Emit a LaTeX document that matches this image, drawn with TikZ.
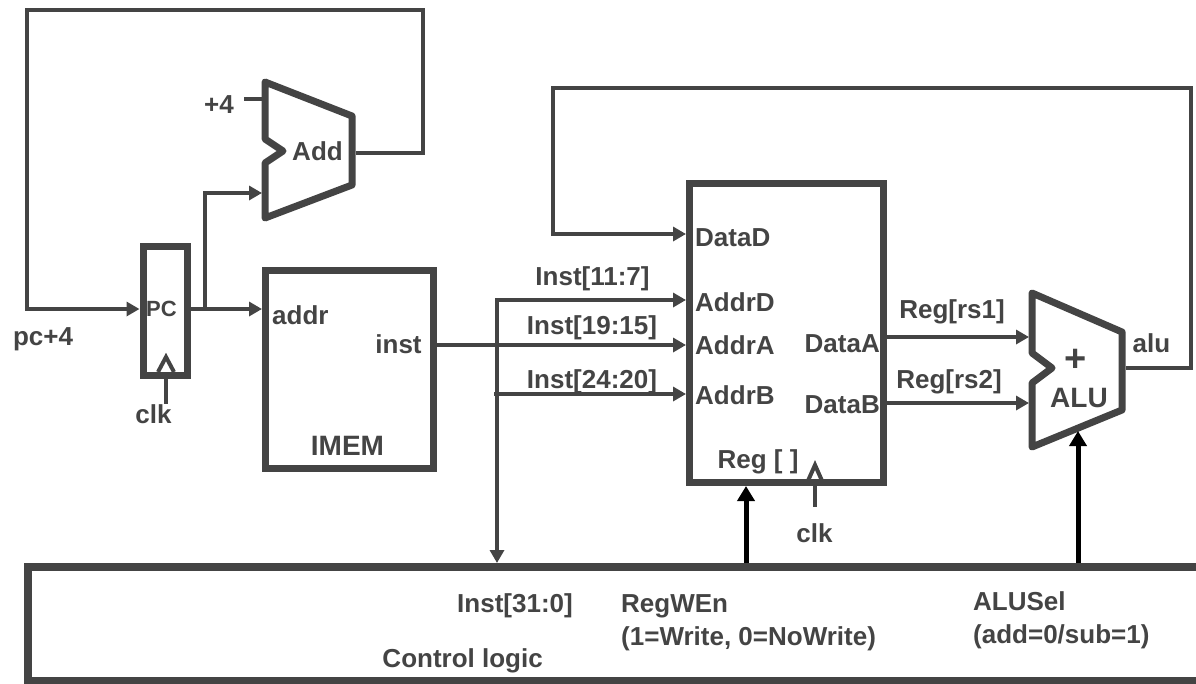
\documentclass[tikz,border=0pt]{standalone}
\usepackage{fontspec}
\setmainfont{Liberation Sans}
\usetikzlibrary{arrows.meta}
\definecolor{fg}{RGB}{68,68,68}
\newcommand\lbf{\fontsize{26}{30}\selectfont\bfseries}
\newcommand\lbfbig{\fontsize{28}{32}\selectfont\bfseries}
\newcommand\lbfplus{\fontsize{38}{40}\selectfont\bfseries}
\newcommand\lbfsmall{\fontsize{22}{26}\selectfont\bfseries}
\tikzset{
  wire/.style={draw=fg, line width=4.5pt},
  arr/.style={wire, -{Triangle[length=13pt,width=14pt]}},
  blackarr/.style={draw=black, line width=5pt, -{Triangle[length=15pt,width=17pt]}},
  blk/.style={draw=fg, line width=7pt, rectangle, inner sep=0pt},
  unitshape/.style={draw=fg, line width=7pt, line join=round},
  clktri/.style={draw=fg, line width=4pt, line join=miter},
  lbl/.style={text=fg, font=\lbf, inner sep=0pt, anchor=base},
}
\begin{document}
\begin{tikzpicture}[x=1pt,y=-1pt]
\useasboundingbox (0,0) rectangle (1196,683);
\clip (0,0) rectangle (1196,683);
\fill[white] (0,0) rectangle (1196,683);

% ---------- blocks ----------
\node[blk, minimum width=44pt, minimum height=129pt] (pc) at (165,310.5) {};
\node[blk, minimum width=168pt, minimum height=198pt] (imem) at (349.5,369.5) {};
\node[blk, minimum width=194pt, minimum height=299pt] (reg) at (786.5,333) {};
\node[blk, line width=8pt, minimum width=1240pt, minimum height=114pt] (ctrl) at (647.5,624) {};

% Add unit
\draw[unitshape] (265,82) -- (352,116) -- (352,185) -- (265,218) -- (265,163)
      -- (283,151) -- (265,139) -- cycle;
% ALU unit
\draw[unitshape] (1032,293) -- (1122,332) -- (1122,410) -- (1032,447) -- (1032,383)
      -- (1052,368) -- (1032,353) -- cycle;

% ---------- port coordinates ----------
\coordinate (addout) at (355.5,153);
\coordinate (plusfour) at (244,99);
\coordinate (addinA) at (262,99);
\coordinate (addinB) at (262,193);
\coordinate (pcsplit) at (205,309);
\coordinate (aluout) at (1125.5,368);
\coordinate (aluA) at (1029,337);
\coordinate (aluB) at (1029,403);
\coordinate (busTop) at (497,300);
\coordinate (busB) at (494,394);
\coordinate (instrow) at (0,345);
\coordinate (datadrow) at (0,234);
\coordinate (drowA) at (0,337);
\coordinate (drowB) at (0,403);
\coordinate (weX) at (746,0);
\coordinate (selX) at (1078,0);
\coordinate (aluSelIn) at (1078,431);

% ---------- labels ----------
\node[lbl] (lplus4) at (219,113) {+4};
\node[lbl] (ladd) at (317.5,160) {Add};
\node[lbl, font=\lbfsmall] (lpc) at (161.5,316) {PC};
\node[lbl] (lpcplus) at (43,345) {pc+4};
\node[lbl] (lclkpc) at (153.5,423) {clk};
\node[lbl, anchor=base west] (laddr) at (272,324) {addr};
\node[lbl] (linst) at (398.5,353) {inst};
\node[lbl, font=\lbfbig] (limem) at (347.5,455) {IMEM};
\node[lbl] (li1) at (592.5,285) {Inst[11:7]};
\node[lbl] (li2) at (592,334) {Inst[19:15]};
\node[lbl] (li3) at (592,388) {Inst[24:20]};
\node[lbl, anchor=base west] (ldatad) at (695,246) {DataD};
\node[lbl, anchor=base west] (laddrd) at (695,311) {AddrD};
\node[lbl, anchor=base west] (laddra) at (695,354) {AddrA};
\node[lbl, anchor=base west] (laddrb) at (695,404) {AddrB};
\node[lbl, anchor=base east] (ldataa) at (880,352) {DataA};
\node[lbl, anchor=base east] (ldatab) at (880,413) {DataB};
\node[lbl] (lreg) at (758,468) {Reg [ ]};
\node[lbl] (lclkreg) at (814.5,542) {clk};
\node[lbl] (lrs1) at (952,318) {Reg[rs1]};
\node[lbl] (lrs2) at (949,388) {Reg[rs2]};
\node[lbl, font=\lbfplus] (lplus) at (1076,371) {+};
\node[lbl, font=\lbfbig] (lalu) at (1079,407) {ALU};
\node[lbl] (laluout) at (1151.5,352) {alu};
\node[lbl, anchor=base east] (linstall) at (573,612) {Inst[31:0]};
\node[lbl, anchor=base west] (lwe) at (621,612) {RegWEn};
\node[lbl, anchor=base west] (lwe2) at (621,645) {(1=Write, 0=NoWrite)};
\node[lbl, anchor=base west] (lsel) at (973,610) {ALUSel};
\node[lbl, anchor=base west] (lsel2) at (973,643) {(add=0/sub=1)};
\node[lbl, anchor=base east] (lctrl) at (543,667) {Control logic};

% ---------- wires ----------
% PC+4 feedback
\draw[arr] (addout) -- (423,153) -- (423,10) -- (27,10) -- (27,309) -- (pc.west |- pcsplit);
% PC -> IMEM
\draw[arr] (pc.east |- pcsplit) -- (imem.west |- pcsplit);
% PC -> Add
\draw[arr] (pcsplit) -- (205,193) -- (addinB);
% +4
\draw[wire] (plusfour) -- (addinA);
% inst -> AddrA
\draw[arr] (imem.east |- instrow) -- (reg.west |- instrow);
% bus: AddrD and Inst[31:0]
\draw[wire, {Triangle[length=13pt,width=14pt]}-{Triangle[length=13pt,width=14pt]}]
   (ctrl.north -| busTop) -- (busTop) -- (reg.west |- busTop);
% AddrB
\draw[arr] (busB) -- (reg.west |- busB);
% ALU -> DataD
\draw[arr] (aluout) -- (1191,368) -- (1191,88) -- (553,88) -- (553,234) -- (reg.west |- datadrow);
% DataA, DataB
\draw[arr] (reg.east |- drowA) -- (aluA);
\draw[arr] (reg.east |- drowB) -- (aluB);
% control arrows
\draw[blackarr] (ctrl.north -| weX) -- (reg.south -| weX);
\draw[blackarr] (ctrl.north -| selX) -- (aluSelIn);

% clocks
\coordinate (pcclk) at (166,372);
\coordinate (regclk) at (815,483);
\draw[clktri] (158,372) -- (166,357) -- (174,372);
\draw[wire] (pcclk) -- (166,404);
\draw[clktri] (807,483) -- (815,465) -- (823,483);
\draw[wire] (regclk) -- (815,507);
\end{tikzpicture}
\end{document}
